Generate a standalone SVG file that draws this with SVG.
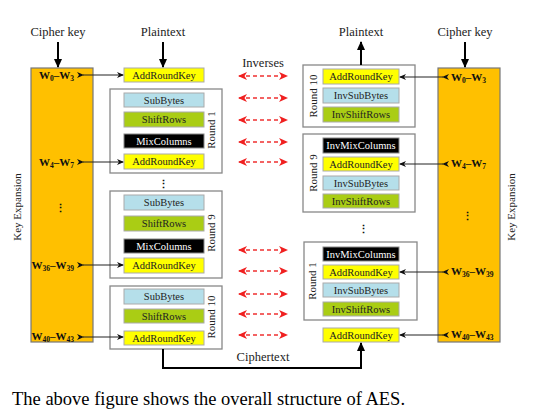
<svg xmlns="http://www.w3.org/2000/svg" width="536" height="412" viewBox="0 0 536 412" font-family="'Liberation Serif', 'DejaVu Serif', serif">
<defs>
<style>
text{font-family:"Liberation Serif","DejaVu Serif",serif;fill:#222}
.hd{font-size:12.5px;text-anchor:middle}
.bx{font-size:10.5px;text-anchor:middle}
.wl{font-size:11px;font-weight:bold;fill:#111}
.rl{font-size:11px;text-anchor:middle}
.sub{font-size:7.5px}
.cont{fill:#fff;stroke:#888;stroke-width:1.3}
.ark{fill:#ffff00;stroke:#aaa;stroke-width:1}
.sb{fill:#b5dfea;stroke:#aaa;stroke-width:1}
.sr{fill:#aacd14;stroke:#aaa;stroke-width:1}
.mc{fill:#000;stroke:#888;stroke-width:1}
.wt{fill:#fff}
.ke{fill:#ffc000;stroke:#777;stroke-width:1.2}
.thick{stroke:#000;stroke-width:2;fill:none}
.thin{stroke:#222;stroke-width:1;fill:none}
.red{stroke:#f03030;stroke-width:1.3;stroke-dasharray:4 3;fill:none}
</style>
<marker id="big" markerUnits="userSpaceOnUse" markerWidth="10" markerHeight="10" refX="8" refY="5" orient="auto">
<path d="M0,1 L9,5 L0,9 z" fill="#000"/>
</marker>
<marker id="sm" markerUnits="userSpaceOnUse" markerWidth="8" markerHeight="8" refX="6" refY="4" orient="auto">
<path d="M0,1 L7,4 L0,7 L2,4 z" fill="#111"/>
</marker>
<marker id="rd" markerUnits="userSpaceOnUse" markerWidth="10" markerHeight="10" refX="8" refY="5" orient="auto-start-reverse">
<path d="M0,1 L9,5 L0,9 L2.5,5 z" fill="#f02020"/>
</marker>
</defs>
<rect width="536" height="412" fill="#fff"/>

<g id="titles">
<text class="hd" x="58" y="36">Cipher key</text>
<text class="hd" x="163" y="36">Plaintext</text>
<text class="hd" x="361" y="36">Plaintext</text>
<text class="hd" x="465" y="36">Cipher key</text>
<text class="hd" x="263" y="67">Inverses</text>
<text class="hd" x="263" y="361">Ciphertext</text>
</g>

<g id="key-expansion-left">
<rect class="ke" x="31" y="68" width="62" height="274"/>
<text class="wl" x="74" y="79" text-anchor="end">W<tspan class="sub" dy="2">0</tspan><tspan dy="-2">–W</tspan><tspan class="sub" dy="2">3</tspan></text>
<text class="wl" x="74" y="166" text-anchor="end">W<tspan class="sub" dy="2">4</tspan><tspan dy="-2">–W</tspan><tspan class="sub" dy="2">7</tspan></text>
<text class="wl" x="74" y="269" text-anchor="end">W<tspan class="sub" dy="2">36</tspan><tspan dy="-2">–W</tspan><tspan class="sub" dy="2">39</tspan></text>
<text class="wl" x="74" y="340" text-anchor="end">W<tspan class="sub" dy="2">40</tspan><tspan dy="-2">–W</tspan><tspan class="sub" dy="2">43</tspan></text>
<text class="wl" x="60" y="212" text-anchor="middle">⋮</text>
<text class="rl" transform="translate(21,207) rotate(-90)">Key Expansion</text>
</g>

<g id="key-expansion-right">
<rect class="ke" x="438" y="68" width="62" height="274"/>
<text class="wl" x="451" y="81">W<tspan class="sub" dy="2">0</tspan><tspan dy="-2">–W</tspan><tspan class="sub" dy="2">3</tspan></text>
<text class="wl" x="451" y="167">W<tspan class="sub" dy="2">4</tspan><tspan dy="-2">–W</tspan><tspan class="sub" dy="2">7</tspan></text>
<text class="wl" x="451" y="275">W<tspan class="sub" dy="2">36</tspan><tspan dy="-2">–W</tspan><tspan class="sub" dy="2">39</tspan></text>
<text class="wl" x="451" y="338">W<tspan class="sub" dy="2">40</tspan><tspan dy="-2">–W</tspan><tspan class="sub" dy="2">43</tspan></text>
<text class="wl" x="467" y="220" text-anchor="middle">⋮</text>
<text class="rl" transform="translate(515,207) rotate(-90)">Key Expansion</text>
</g>

<g id="enc-initial">
<rect class="ark" x="124" y="68" width="80" height="14"/>
<text class="bx" x="164" y="79">AddRoundKey</text>
</g>

<g id="enc-round1">
<rect class="cont" x="110" y="89" width="112" height="84"/>
<rect class="sb" x="124" y="93" width="80" height="14"/>
<text class="bx" x="164" y="104">SubBytes</text>
<rect class="sr" x="124" y="112" width="80" height="15"/>
<text class="bx" x="164" y="123">ShiftRows</text>
<rect class="mc" x="124" y="134" width="80" height="14"/>
<text class="bx wt" x="164" y="145">MixColumns</text>
<rect class="ark" x="124" y="154" width="80" height="15"/>
<text class="bx" x="164" y="165">AddRoundKey</text>
<text class="rl" transform="translate(215,130) rotate(-90)">Round 1</text>
</g>

<text class="wl" x="163" y="188" text-anchor="middle">⋮</text>

<g id="enc-round9">
<rect class="cont" x="110" y="191" width="112" height="87"/>
<rect class="sb" x="124" y="195" width="80" height="15"/>
<text class="bx" x="164" y="206">SubBytes</text>
<rect class="sr" x="124" y="216" width="80" height="15"/>
<text class="bx" x="164" y="227">ShiftRows</text>
<rect class="mc" x="124" y="239" width="80" height="14"/>
<text class="bx wt" x="164" y="250">MixColumns</text>
<rect class="ark" x="124" y="258" width="80" height="15"/>
<text class="bx" x="164" y="269">AddRoundKey</text>
<text class="rl" transform="translate(215,233) rotate(-90)">Round 9</text>
</g>

<g id="enc-round10">
<rect class="cont" x="110" y="286" width="112" height="63"/>
<rect class="sb" x="124" y="289" width="80" height="15"/>
<text class="bx" x="164" y="300">SubBytes</text>
<rect class="sr" x="124" y="309" width="80" height="14"/>
<text class="bx" x="164" y="320">ShiftRows</text>
<rect class="ark" x="124" y="331" width="80" height="14"/>
<text class="bx" x="164" y="342">AddRoundKey</text>
<text class="rl" transform="translate(215,317) rotate(-90)">Round 10</text>
</g>

<g id="dec-round10">
<rect class="cont" x="303" y="65" width="112" height="62"/>
<rect class="ark" x="323" y="69" width="76" height="15"/>
<text class="bx" x="361" y="80">AddRoundKey</text>
<rect class="sb" x="323" y="88" width="76" height="15"/>
<text class="bx" x="361" y="99">InvSubBytes</text>
<rect class="sr" x="323" y="107" width="76" height="15"/>
<text class="bx" x="361" y="118">InvShiftRows</text>
<text class="rl" transform="translate(317,96) rotate(-90)">Round 10</text>
</g>

<g id="dec-round9">
<rect class="cont" x="303" y="134" width="112" height="78"/>
<rect class="mc" x="323" y="138" width="76" height="15"/>
<text class="bx wt" x="361" y="149">InvMixColumns</text>
<rect class="ark" x="323" y="157" width="76" height="14"/>
<text class="bx" x="361" y="168">AddRoundKey</text>
<rect class="sb" x="323" y="176" width="76" height="14"/>
<text class="bx" x="361" y="187">InvSubBytes</text>
<rect class="sr" x="323" y="194" width="76" height="14"/>
<text class="bx" x="361" y="205">InvShiftRows</text>
<text class="rl" transform="translate(317,173) rotate(-90)">Round 9</text>
</g>

<text class="wl" x="363" y="233" text-anchor="middle">⋮</text>

<g id="dec-round1">
<rect class="cont" x="304" y="242" width="113" height="78"/>
<rect class="mc" x="323" y="247" width="76" height="14"/>
<text class="bx wt" x="361" y="258">InvMixColumns</text>
<rect class="ark" x="323" y="265" width="76" height="14"/>
<text class="bx" x="361" y="276">AddRoundKey</text>
<rect class="sb" x="323" y="283" width="76" height="14"/>
<text class="bx" x="361" y="294">InvSubBytes</text>
<rect class="sr" x="323" y="302" width="76" height="14"/>
<text class="bx" x="361" y="313">InvShiftRows</text>
<text class="rl" transform="translate(316,281) rotate(-90)">Round 1</text>
</g>

<g id="dec-final">
<rect class="ark" x="323" y="328" width="76" height="14"/>
<text class="bx" x="361" y="339">AddRoundKey</text>
</g>

<g id="connectors">
<path class="thick" d="M58,42 V67" marker-end="url(#big)"/>
<path class="thick" d="M163,42 V67" marker-end="url(#big)"/>
<path class="thick" d="M361,65 V42" marker-end="url(#big)"/>
<path class="thick" d="M465,42 V67" marker-end="url(#big)"/>
<path class="thick" d="M163,349 V368 H361 V343" marker-end="url(#big)"/>

<path class="thin" d="M83,75 H123" marker-start="url(#sm)" marker-end="url(#sm)"/>
<path class="thin" d="M83,162 H123" marker-start="url(#sm)" marker-end="url(#sm)"/>
<path class="thin" d="M83,265 H123" marker-start="url(#sm)" marker-end="url(#sm)"/>
<path class="thin" d="M83,337 H123" marker-start="url(#sm)" marker-end="url(#sm)"/>

<path class="thin" d="M443,77 H400" marker-start="url(#sm)" marker-end="url(#sm)"/>
<path class="thin" d="M443,164 H400" marker-start="url(#sm)" marker-end="url(#sm)"/>
<path class="thin" d="M443,272 H400" marker-start="url(#sm)" marker-end="url(#sm)"/>
<path class="thin" d="M443,335 H400" marker-start="url(#sm)" marker-end="url(#sm)"/>

<path class="red" d="M239,76 H287" marker-start="url(#rd)" marker-end="url(#rd)"/>
<path class="red" d="M239,98 H287" marker-start="url(#rd)" marker-end="url(#rd)"/>
<path class="red" d="M239,120 H287" marker-start="url(#rd)" marker-end="url(#rd)"/>
<path class="red" d="M239,142 H287" marker-start="url(#rd)" marker-end="url(#rd)"/>
<path class="red" d="M239,162 H287" marker-start="url(#rd)" marker-end="url(#rd)"/>
<path class="red" d="M239,250 H287" marker-start="url(#rd)" marker-end="url(#rd)"/>
<path class="red" d="M239,271 H287" marker-start="url(#rd)" marker-end="url(#rd)"/>
<path class="red" d="M239,294 H287" marker-start="url(#rd)" marker-end="url(#rd)"/>
<path class="red" d="M239,314 H287" marker-start="url(#rd)" marker-end="url(#rd)"/>
<path class="red" d="M239,335 H287" marker-start="url(#rd)" marker-end="url(#rd)"/>
</g>

<text x="12" y="405" style="font-size:18.5px;fill:#000">The above figure shows the overall structure of AES.</text>
</svg>
